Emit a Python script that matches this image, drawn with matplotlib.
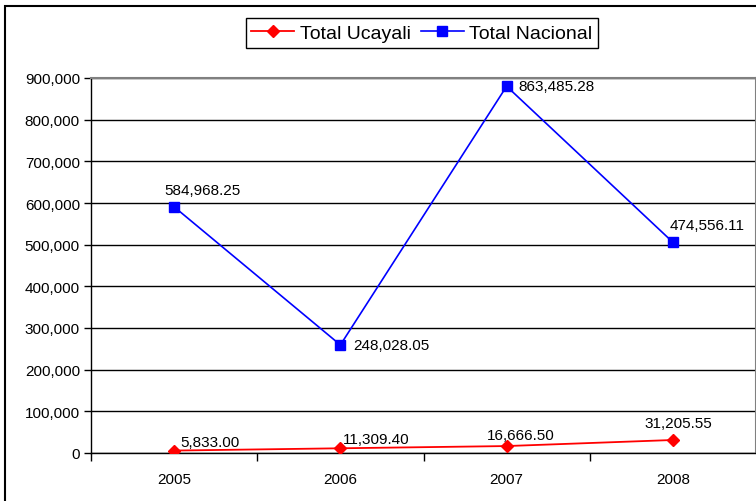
"""
plot.py - Total Ucayali vs Total Nacional (linea apilada, estilo Excel).
"""
import matplotlib
matplotlib.use("Agg")
import matplotlib.pyplot as plt
from matplotlib.patches import Rectangle
from matplotlib.ticker import FuncFormatter

plt.rcParams["font.family"] = ["Liberation Sans", "DejaVu Sans"]

years = ["2005", "2006", "2007", "2008"]
ucayali = [5833.00, 11309.40, 16666.50, 31205.55]
nacional = [584968.25, 248028.05, 863485.28, 474556.11]

# posiciones de etiquetas (offset en pixeles, alineacion)
uca_offsets = [((6, 9), "left"), ((2, 9), "left"), ((14, 11), "center"), ((5, 17), "center")]
nac_offsets = [((28, 17), "center"), ((13, 0), "left"), ((12, 0), "left"), ((34, 17), "center")]

fig = plt.figure(figsize=(7.56, 5.02), dpi=100, facecolor="white")
ax = fig.add_axes([91 / 756, 48 / 502, 665 / 756, 375 / 502])

x = list(range(len(years)))
# grafico apilado: Nacional se dibuja sobre Ucayali
stacked = [u + n for u, n in zip(ucayali, nacional)]

ax.plot(x, ucayali, color="#ff0000", marker="D", markersize=6, linewidth=1.3,
        label="Total Ucayali", zorder=3)
ax.plot(x, stacked, color="#0000ff", marker="s", markersize=6.5, linewidth=1.2,
        label="Total Nacional", zorder=3)

for i in x:
    (dx, dy), ha = uca_offsets[i]
    ax.annotate(f"{ucayali[i]:,.2f}", (i, ucayali[i]), xytext=(dx, dy),
                textcoords="offset pixels", ha=ha, va="center", fontsize=11)
    (dx, dy), ha = nac_offsets[i]
    ax.annotate(f"{nacional[i]:,.2f}", (i, stacked[i]), xytext=(dx, dy),
                textcoords="offset pixels", ha=ha, va="center", fontsize=11)

ax.set_xlim(-0.5, len(years) - 0.5)
ax.set_ylim(0, 900000)
ax.set_yticks(range(0, 900001, 100000))
ax.yaxis.set_major_formatter(FuncFormatter(lambda v, p: f"{int(v):,}"))
ax.set_xticks(x)
ax.set_xticklabels(years)
ax.set_xticks([i + 0.5 for i in x[:-1]] + [-0.5], minor=True)
ax.tick_params(axis="x", which="major", length=0, pad=14, labelsize=11)
ax.tick_params(axis="x", which="minor", length=6, width=1, direction="out")
ax.tick_params(axis="y", length=5, width=1, direction="out", labelsize=11, pad=3)

ax.grid(axis="y", color="black", linewidth=1)
ax.set_axisbelow(True)
for side in ("top", "right"):
    ax.spines[side].set_color("#808080")
    ax.spines[side].set_linewidth(1.5)
for side in ("left", "bottom"):
    ax.spines[side].set_color("black")
    ax.spines[side].set_linewidth(1)

leg = fig.legend(loc="center", bbox_to_anchor=(422 / 756, 1 - 34 / 502),
                 ncol=2, fontsize=14, frameon=True, fancybox=False,
                 edgecolor="black", handlelength=2.2, handletextpad=0.3,
                 columnspacing=0.5, borderpad=0.3, framealpha=1)
leg.get_frame().set_linewidth(1)

fig.patches.append(Rectangle((5 / 756, -0.02), 1.0, 0.986 + 0.02,
                             transform=fig.transFigure, fill=False,
                             edgecolor="black", linewidth=1.5))

fig.savefig("out.png", dpi=100, facecolor=fig.get_facecolor())
